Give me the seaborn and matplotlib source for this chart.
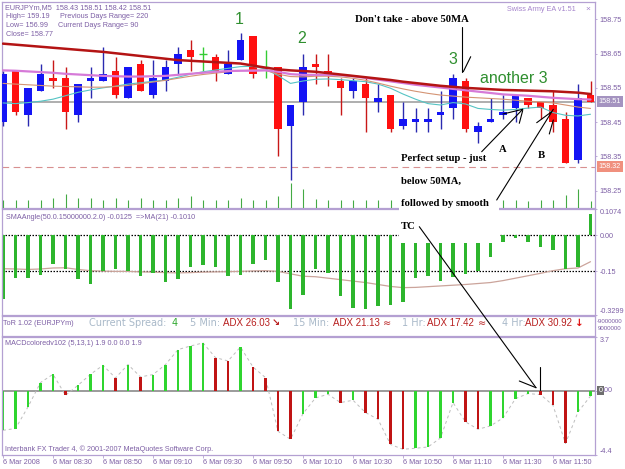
import numpy as np
import pandas as pd
import matplotlib
matplotlib.use("Agg")
import matplotlib.pyplot as plt
import seaborn as sns
from matplotlib.transforms import Affine2D, blended_transform_factory
from matplotlib.lines import Line2D
from matplotlib.patches import Rectangle

# ---------------- data ----------------
time_labels = ["6 Mar 2008", "6 Mar 08:30", "6 Mar 08:50", "6 Mar 09:10", "6 Mar 09:30",
               "6 Mar 09:50", "6 Mar 10:10", "6 Mar 10:30", "6 Mar 10:50", "6 Mar 11:10",
               "6 Mar 11:30", "6 Mar 11:50"]

opens = [158.45, 158.60, 158.47, 158.54, 158.58, 158.58, 158.47, 158.57, 158.57, 158.60,
         158.52, 158.62, 158.53, 158.57, 158.62, 158.66, 158.65, 158.64, 158.59, 158.63,
         158.70, 158.61, 158.61, 158.44, 158.51, 158.62, 158.60, 158.57, 158.54, 158.56,
         158.51, 158.53, 158.44, 158.45, 158.45, 158.47, 158.49, 158.57, 158.42, 158.45,
         158.47, 158.49, 158.52, 158.51, 158.50, 158.46, 158.34, 158.53]
highs = [158.60, 158.60, 158.55, 158.62, 158.63, 158.61, 158.56, 158.61, 158.67, 158.64,
         158.61, 158.63, 158.63, 158.63, 158.67, 158.69, 158.67, 158.65, 158.66, 158.71,
         158.70, 158.66, 158.61, 158.50, 158.65, 158.65, 158.65, 158.58, 158.58, 158.58,
         158.56, 158.53, 158.51, 158.49, 158.49, 158.54, 158.59, 158.58, 158.45, 158.52,
         158.53, 158.53, 158.52, 158.51, 158.54, 158.48, 158.56, 158.57]
lows = [158.44, 158.47, 158.44, 158.54, 158.55, 158.43, 158.45, 158.52, 158.57, 158.52,
        158.52, 158.54, 158.52, 158.54, 158.59, 158.60, 158.60, 158.57, 158.59, 158.63,
        158.58, 158.58, 158.35, 158.28, 158.47, 158.56, 158.555, 158.47, 158.52, 158.42,
        158.48, 158.42, 158.43, 158.42, 158.42, 158.43, 158.46, 158.42, 158.39, 158.45,
        158.46, 158.45, 158.49, 158.46, 158.42, 158.33, 158.33, 158.51]
closes = [158.59, 158.48, 158.55, 158.59, 158.57, 158.48, 158.56, 158.58, 158.59, 158.53,
          158.61, 158.54, 158.58, 158.61, 158.65, 158.64, 158.65, 158.60, 158.62, 158.69,
          158.59, 158.61, 158.43, 158.50, 158.61, 158.61, 158.59, 158.55, 158.57, 158.52,
          158.52, 158.43, 158.46, 158.46, 158.46, 158.48, 158.58, 158.43, 158.44, 158.46,
          158.48, 158.53, 158.50, 158.49, 158.45, 158.33, 158.52, 158.51]

ma_slow = [158.679, 158.676, 158.673, 158.670, 158.667, 158.664, 158.661, 158.658, 158.655, 158.651,
           158.647, 158.643, 158.639, 158.635, 158.631, 158.629, 158.627, 158.625, 158.623, 158.621,
           158.615, 158.609, 158.604, 158.601, 158.599, 158.597, 158.593, 158.589, 158.585, 158.581,
           158.577, 158.573, 158.568, 158.564, 158.560, 158.556, 158.553, 158.550, 158.548, 158.546,
           158.544, 158.543, 158.542, 158.541, 158.540, 158.538, 158.536, 158.532]
ma_pink = [158.601, 158.600, 158.598, 158.596, 158.594, 158.591, 158.589, 158.587, 158.585, 158.584,
           158.583, 158.583, 158.584, 158.585, 158.588, 158.591, 158.594, 158.597, 158.599, 158.600,
           158.600, 158.601, 158.597, 158.590, 158.588, 158.588, 158.588, 158.587, 158.584, 158.579,
           158.574, 158.569, 158.564, 158.559, 158.555, 158.551, 158.547, 158.543, 158.539, 158.535,
           158.531, 158.529, 158.527, 158.524, 158.521, 158.519, 158.517, 158.516]
ma_tan = [158.563, 158.561, 158.559, 158.557, 158.555, 158.554, 158.553, 158.552, 158.552, 158.554,
          158.557, 158.562, 158.567, 158.572, 158.578, 158.584, 158.589, 158.593, 158.597, 158.600,
          158.602, 158.601, 158.590, 158.583, 158.582, 158.584, 158.584, 158.582, 158.578, 158.572,
          158.564, 158.555, 158.547, 158.540, 158.534, 158.529, 158.526, 158.523, 158.521, 158.519,
          158.517, 158.514, 158.511, 158.509, 158.506, 158.500, 158.494, 158.490]
ma_cyan = [158.506, 158.504, 158.507, 158.511, 158.517, 158.527, 158.537, 158.544, 158.550, 158.555,
           158.561, 158.565, 158.569, 158.573, 158.581, 158.590, 158.597, 158.602, 158.607, 158.612,
           158.613, 158.605, 158.586, 158.563, 158.570, 158.575, 158.576, 158.574, 158.571, 158.568,
           158.561, 158.549, 158.532, 158.517, 158.504, 158.500, 158.507, 158.503, 158.490, 158.487,
           158.485, 158.487, 158.491, 158.494, 158.478, 158.470, 158.468, 158.473]
volume = [40, 38, 38, 38, 50, 70, 50, 50, 38, 50, 42, 50, 38, 38, 50, 62, 38, 38, 38, 50,
          38, 38, 62, 125, 95, 45, 38, 38, 38, 38, 38, 38, 40, 40, 40, 40, 55, 55, 40, 40,
          38, 38, 35, 38, 38, 67, 95, 35]

sma_angle = [-0.265, -0.178, -0.178, -0.164, -0.119, -0.139, -0.180, -0.203, -0.150, -0.139,
             -0.150, -0.168, -0.157, -0.194, -0.180, -0.133, -0.122, -0.133, -0.171, -0.164,
             -0.119, -0.105, -0.192, -0.305, -0.247, -0.139, -0.157, -0.250, -0.303, -0.305,
             -0.292, -0.289, -0.278, -0.178, -0.167, -0.189, -0.175, -0.161, -0.147, -0.092,
             -0.028, -0.011, -0.028, -0.050, -0.060, -0.139, -0.133, 0.086]
sma_angle_ma = [-0.139, -0.140, -0.142, -0.140, -0.136, -0.135, -0.142, -0.147, -0.149, -0.150,
                -0.150, -0.152, -0.153, -0.155, -0.156, -0.155, -0.153, -0.152, -0.151, -0.150,
                -0.148, -0.147, -0.150, -0.160, -0.170, -0.172, -0.178, -0.184, -0.190, -0.196,
                -0.204, -0.212, -0.217, -0.216, -0.213, -0.210, -0.207, -0.204, -0.200, -0.196,
                -0.188, -0.178, -0.168, -0.158, -0.147, -0.139, -0.136, -0.110]
macd = [-2.73, -2.61, -1.12, 0.56, 1.13, -0.32, 0.37, 1.13, 1.75, 0.88,
        1.80, 0.95, 1.11, 1.80, 2.83, 3.08, 3.29, 2.28, 2.05, 3.01,
        1.63, 0.90, -2.80, -3.35, -1.58, -0.50, -0.25, -0.82, -0.66, -1.51,
        -1.97, -3.71, -4.04, -3.97, -3.88, -3.26, -0.82, -2.15, -2.66, -2.43,
        -1.88, -0.55, -0.20, -0.27, -1.01, -3.64, -1.47, -0.37]

# ---------------- style ----------------
sns.set_theme(style="white")
plt.rcParams["font.family"] = ["Liberation Sans", "DejaVu Sans"]

VIOLET = "#7d5fa5"
BORDER = "#b4a0d2"
SMALL = 5.2
W, H = 625, 469
XMIN, XMAX = (2 - 3) / 12.5, (595 - 3) / 12.5

fig = plt.figure(figsize=(W / 100, H / 100), dpi=100)
fig.patch.set_facecolor("white")
PX = Affine2D().scale(1 / W, -1 / H).translate(0, 1) + fig.transFigure


def add_panel(x0, y0, x1, y1):
    ax = fig.add_axes([x0 / W, 1 - y1 / H, (x1 - x0) / W, (y1 - y0) / H])
    ax.set_facecolor("white")
    return ax


def style_panel(ax):
    for s in ax.spines.values():
        s.set_color(BORDER)
        s.set_linewidth(0.9)
        s.set_visible(True)
    ax.yaxis.tick_right()
    ax.tick_params(axis="y", right=True, left=False, labelleft=False, labelright=True,
                   length=1.5, width=0.6, color=BORDER, labelsize=SMALL,
                   labelcolor=VIOLET, pad=2)
    ax.tick_params(axis="x", bottom=False, labelbottom=False)
    ax.set_xlim(XMIN, XMAX)
    ax.set_xlabel("")
    ax.set_ylabel("")
    ax.grid(False)


idx = np.arange(len(closes))
o, h, l, c = map(np.array, (opens, highs, lows, closes))

# ---------------- main price panel ----------------
ax = add_panel(2, 2, 595, 208)
axv = ax.twinx()
axv.vlines(idx, 0, volume, color="#44aa44", lw=0.8)
axv.set_ylim(0, 1030)
axv.set_axis_off()

ax.axhline(158.51, color="#a8a8a8", lw=1.3, zorder=1)
ax.axhline(158.32, color="#d89090", lw=0.8, dashes=(6, 4), zorder=1)

up, dn, dj = c > o, c < o, c == o
bot, hgt = np.minimum(o, c), np.abs(c - o)
ax.vlines(idx[up], l[up], h[up], color="#2a2ab0", lw=1, zorder=3)
ax.bar(idx[up], hgt[up], bottom=bot[up], width=0.6, color="#1414f5", lw=0, zorder=4)
ax.vlines(idx[dn], l[dn], h[dn], color="#c81818", lw=1, zorder=3)
ax.bar(idx[dn], hgt[dn], bottom=bot[dn], width=0.6, color="#ff1010", lw=0, zorder=4)
ax.vlines(idx[dj], l[dj], h[dj], color="#33cc33", lw=1, zorder=3)
ax.hlines(c[dj], idx[dj] - 0.3, idx[dj] + 0.3, color="#33cc33", lw=1, zorder=3)

sns.lineplot(x=idx, y=ma_cyan, ax=ax, color="#55c4c4", lw=0.8, zorder=5)
sns.lineplot(x=idx, y=ma_tan, ax=ax, color="#d49474", lw=0.8, zorder=5)
sns.lineplot(x=idx, y=ma_pink, ax=ax, color="#d67ad8", lw=1.6, zorder=5)
sns.lineplot(x=idx, y=ma_slow, ax=ax, color="#b41414", lw=1.8, zorder=6)

ax.set_ylim(158.1995, 158.8005)
style_panel(ax)
ax.set_yticks([158.25, 158.35, 158.45, 158.55, 158.65, 158.75])
ax.set_yticklabels(["158.25", "158.35", "158.45", "158.55", "158.65", "158.75"])
bt = blended_transform_factory(fig.transFigure, ax.transData)
ax.text(598.5 / W, 158.51, "158.51", transform=bt, fontsize=SMALL, color="white", va="center",
        bbox=dict(boxstyle="square,pad=0.25", fc="#a493c0", ec="none"), zorder=10)
ax.text(598.5 / W, 158.32, "158.32", transform=bt, fontsize=SMALL, color="white", va="center",
        bbox=dict(boxstyle="square,pad=0.25", fc="#f0907e", ec="none"), zorder=10)

# ---------------- SMA angle panel ----------------
ax2 = add_panel(2, 209, 595, 315)
sma_df = pd.DataFrame({"bar": idx, "angle": sma_angle})
ax2.axhline(0, color="black", lw=0.9, ls=(0, (1.2, 1.2)), zorder=1)
ax2.axhline(-0.15, color="black", lw=0.9, ls=(0, (1.2, 1.2)), zorder=1)
sns.lineplot(x=idx, y=sma_angle_ma, ax=ax2, color="#cba49b", lw=0.9, zorder=1.5)
sns.barplot(data=sma_df, x="bar", y="angle", ax=ax2, native_scale=True, width=0.27,
            color="#2db52d", errorbar=None, linewidth=0, saturation=1, zorder=2)
ax2.set_ylim(-0.3299, 0.1074)
style_panel(ax2)
ax2.set_yticks([0.1074, 0.0, -0.15, -0.3299])
ax2.set_yticklabels(["0.1074", "0.00", "-0.15", "-0.3299"])
tl = ax2.get_yticklabels()
tl[0].set_va("top")
tl[-1].set_va("bottom")

# ---------------- ToR panel ----------------
ax3 = add_panel(2, 316, 595, 336)
style_panel(ax3)
ax3.set_yticks([])

# ---------------- MACD panel ----------------
ax4 = add_panel(2, 337, 595, 454.5)
macd_dir = ["up"] + ["up" if macd[i] >= macd[i - 1] else "down" for i in range(1, len(macd))]
macd_df = pd.DataFrame({"bar": idx, "macd": macd, "dir": macd_dir})
ax4.axhline(0, color="#8a8a8a", lw=1.2, zorder=1)
sns.lineplot(data=macd_df, x="bar", y="macd", ax=ax4, color="#bdbdbd", lw=0.7,
             linestyle=(0, (3, 3)), zorder=1.5)
sns.barplot(data=macd_df, x="bar", y="macd", hue="dir", ax=ax4, native_scale=True,
            palette={"up": "#2fd52f", "down": "#c01414"}, dodge=False, width=0.17,
            errorbar=None, linewidth=0, saturation=1, legend=False, zorder=2)
ax4.set_ylim(-4.4, 3.7)
style_panel(ax4)
ax4.set_yticks([3.7, 0.0, -4.4])
ax4.set_yticklabels(["3.7", "", "-4.4"])
tl = ax4.get_yticklabels()
tl[0].set_va("top")
tl[-1].set_va("bottom")
ax4.set_xticks(idx[::4])
ax4.set_xticklabels(time_labels, ha="left")
ax4.tick_params(axis="x", bottom=True, labelbottom=True, direction="out", length=2,
                width=0.6, color=BORDER, labelsize=SMALL, labelcolor=VIOLET, pad=1)
ax4.set_xlim(XMIN, XMAX)


# ---------------- text helpers ----------------
def ftext(x, y, s, **kw):
    kw.setdefault("fontsize", SMALL)
    kw.setdefault("color", VIOLET)
    kw.setdefault("va", "center")
    kw.setdefault("ha", "left")
    return fig.text(x, y, s, transform=PX, **kw)


# MACD zero label with small dark box
ftext(598.5, 390.7, "0", color="white", zorder=12,
      bbox=dict(boxstyle="square,pad=0.15", fc="#6e6e6e", ec="none"))
ftext(602.6, 390.7, ".00", zorder=12)

# headers
ftext(5, 7.5, "EURJPYm,M5  158.43 158.51 158.42 158.51")
ftext(6, 16.3, "High= 159.19")
ftext(60, 16.3, "Previous Days Range= 220")
ftext(6, 25.2, "Low= 156.99")
ftext(58, 25.2, "Current Days Range= 90")
ftext(6, 34.2, "Close= 158.77")
ftext(507, 9.3, "Swiss Army EA v1.51", color="#a584cc")
ftext(585, 9.3, "\u00d7", color="#a584cc", fontsize=6)
ftext(6, 217.7, "SMAAngle(50.0.15000000.2.0) -0.0125  =>MA(21) -0.1010")
ftext(5, 343.5, "MACDcoloredv102 (5,13,1) 1.9 0.0 0.0 1.9")
ftext(5, 449, "Interbank FX Trader 4, \u00a9 2001-2007 MetaQuotes Software Corp.")
ftext(596.5, 321.3, "-9000000", fontsize=4.4)
ftext(597.5, 328.8, "9000000", fontsize=4.4)

# ToR line
LG = "#a9b9c9"
RD = "#b82020"
ftext(3.3, 323.3, "ToR 1.02 (EURJPYm)")
ftext(89, 323.3, "Current Spread:", color=LG, fontsize=7, family="DejaVu Sans")
ftext(171.5, 323.3, "4", color="#33aa33", fontsize=7, family="DejaVu Sans")
ftext(190, 323.3, "5 Min:", color=LG, fontsize=7, family="DejaVu Sans")
ftext(223, 323.3, "ADX 26.03", color=RD, fontsize=7)
ftext(272, 323.3, "\u2198", color=RD, fontsize=7, family="DejaVu Sans", weight="bold")
ftext(293, 323.3, "15 Min:", color=LG, fontsize=7, family="DejaVu Sans")
ftext(332.7, 323.3, "ADX 21.13", color=RD, fontsize=7)
ftext(382.5, 323.3, "\u2248", color=RD, fontsize=7, family="DejaVu Sans")
ftext(402, 323.3, "1 Hr:", color=LG, fontsize=7, family="DejaVu Sans")
ftext(427, 323.3, "ADX 17.42", color=RD, fontsize=7)
ftext(477.5, 323.3, "\u2248", color=RD, fontsize=7, family="DejaVu Sans")
ftext(502, 323.3, "4 Hr:", color=LG, fontsize=7, family="DejaVu Sans")
ftext(525, 323.3, "ADX 30.92", color=RD, fontsize=7)
ftext(575, 323.3, "\u2193", color="#e01010", fontsize=7.5, family="DejaVu Sans", weight="bold")

# green wave labels
GR = "#2f8f2f"
ftext(239.3, 19, "1", color=GR, fontsize=11.5, ha="center")
ftext(301.7, 38.3, "2", color=GR, fontsize=11.5, ha="center")
ftext(452.7, 60, "3", color=GR, fontsize=11.5, ha="center")
ftext(480, 78.3, "another 3", color=GR, fontsize=11.5)

# white boxes behind annotation text
for (x0, y0, x1, y1) in [(399, 196, 499, 212), (399, 212, 499, 243.5)]:
    fig.patches.append(Rectangle((x0, y1), x1 - x0, y0 - y1, transform=PX,
                                 fc="white", ec="none", zorder=10))

# annotation lines
segs = [((461.7, 26.7), (461.7, 71.7)), ((463.3, 71.7), (470.7, 56.7)),
        ((481.7, 151.7), (522.7, 109.3)), ((503, 114), (522.7, 109.3)),
        ((519.3, 123.3), (522.7, 110.5)),
        ((496.7, 200), (553.3, 109.3)), ((536.7, 122.7), (551.7, 111.7)),
        ((549.3, 134), (553.3, 120)),
        ((419.3, 226.7), (536, 387.7)), ((519.3, 381), (536, 387.7)),
        ((539.7, 366.7), (539.7, 390))]
for (p0, p1) in segs:
    fig.add_artist(Line2D([p0[0], p1[0]], [p0[1], p1[1]], transform=PX, color="black",
                          lw=0.8, zorder=11))

SERIF = dict(family="Liberation Serif", weight="bold", color="black", fontsize=7.7, zorder=12)
ftext(355, 19, "Don't take - above 50MA", **SERIF)
ftext(401, 158.3, "Perfect setup - just", **SERIF)
ftext(401, 181.7, "below 50MA,", **SERIF)
ftext(401, 203.3, "followed by smooth", **SERIF)
ftext(401, 226.7, "TC", **SERIF)
ftext(503, 149, "A", ha="center", **SERIF)
ftext(541, 155.7, "B", ha="center", **SERIF)

fig.savefig("out.png", dpi=100, facecolor="white")
